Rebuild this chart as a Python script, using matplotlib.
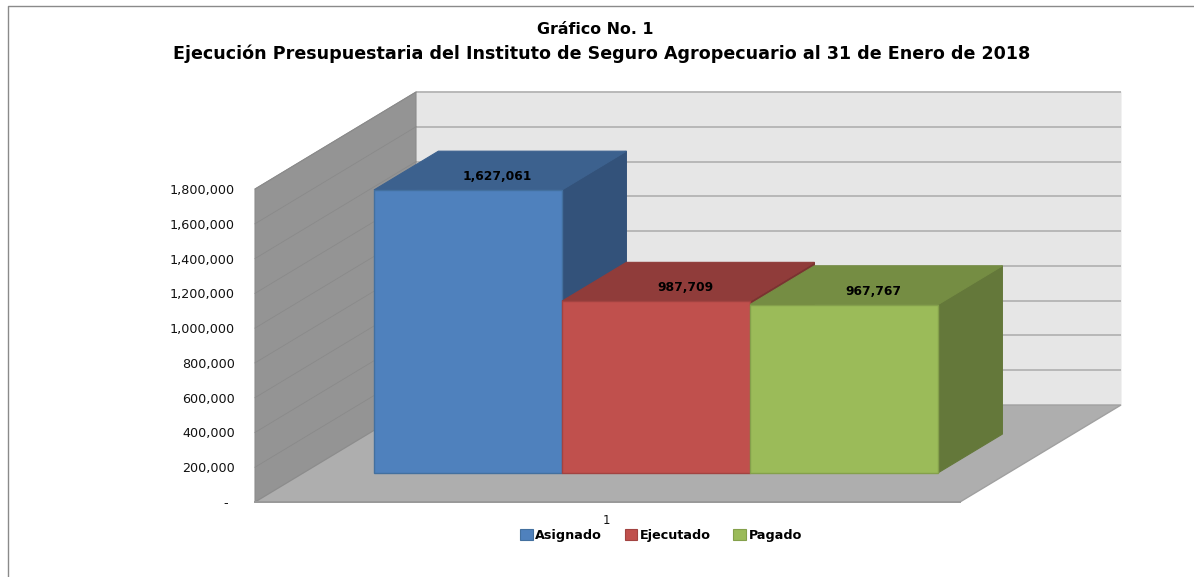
import matplotlib
matplotlib.use("Agg")
import matplotlib.pyplot as plt
from matplotlib.patches import Polygon, Patch
from matplotlib.lines import Line2D

# --- data ---
title_lines = ["Gráfico No. 1",
               "Ejecución Presupuestaria del Instituto de Seguro Agropecuario al 31 de Enero de 2018"]
categories = ["Asignado", "Ejecutado", "Pagado"]
values = [1627061, 987709, 967767]
value_labels = ["1,627,061", "987,709", "967,767"]
tick_values = [0, 200000, 400000, 600000, 800000, 1000000, 1200000, 1400000, 1600000, 1800000]
tick_labels = ["-", "200,000", "400,000", "600,000", "800,000", "1,000,000",
               "1,200,000", "1,400,000", "1,600,000", "1,800,000"]
axis_category = "1"

# --- style ---
W, H = 1194, 577
front_colors = ["#4F81BD", "#C0504D", "#9BBB59"]
top_colors = ["#3C618E", "#903C3A", "#758D43"]
side_colors = ["#33527A", "#7A3331", "#64783A"]
edge_colors = ["#43709F", "#A24341", "#84A04B"]

# layout in pixels
PY0, PY_MAX = 502.0, 189.0          # front wall: value 0 and value max
px_per_val = (PY0 - PY_MAX) / tick_values[-1]
WALL_X0, WALL_W = 255.0, 705.0
DEPTH_X, DEPTH_PX = 161.0, 97.0     # full floor depth
BAR_D0, BAR_D1 = 0.30, 0.70         # bars' depth range
BAR_X0, BAR_W = 325.7, 188.0

fig = plt.figure(figsize=(W / 100, H / 100), dpi=100, facecolor="white")
ax = fig.add_axes([0, 0, 1, 1])
ax.set_xlim(0, W)
ax.set_ylim((PY0 - H) / px_per_val, PY0 / px_per_val)
ax.axis("off")

DV = DEPTH_PX / px_per_val


def pr(x, v, d):
    """Project (x, value, depth fraction) on to the axes' data plane."""
    return (x + DEPTH_X * d, v + DV * d)


def face(points, fc, ec=None, lw=0.8, z=1):
    ax.add_patch(Polygon([pr(*p) for p in points], closed=True, facecolor=fc,
                         edgecolor=ec if ec else fc, linewidth=lw, zorder=z))


vmax = tick_values[-1]
x0, x1 = WALL_X0, WALL_X0 + WALL_W

# walls and floor
face([(x0, 0, 0), (x0, 0, 1), (x1, 0, 1), (x1, vmax, 1), (x0, vmax, 1)], "#E6E6E6", "#E6E6E6", z=1)
face([(x0, 0, 0), (x0, 0, 1), (x0, vmax, 1), (x0, vmax, 0)], "#949494", "#8C8C8C", z=1.2)
face([(x0, 0, 0), (x0, 0, 1), (x1, 0, 1), (x1, 0, 0)], "#AEAEAE", "#A0A0A0", lw=1.0, z=1.1)

# gridlines
for t in tick_values:
    if t > 0:
        pts = [pr(x0, t, 1), pr(x1, t, 1)]
        ax.plot(*zip(*pts), color="#AFAFAF", lw=1.2, zorder=1.05, solid_capstyle="butt")
        pts = [pr(x0, t, 0), pr(x0, t, 1)]
        ax.plot(*zip(*pts), color="#8A8A8A", lw=0.6, zorder=1.25)

# front edge of the floor
ax.plot(*zip(pr(x0, 0, 0), pr(x1, 0, 0)), color="#9A9A9A", lw=1.4, zorder=1.3)

# tick labels
for t, lab in zip(tick_values, tick_labels):
    xpos = x0 - 20 if t > 0 else x0 - 27
    ax.text(xpos, t - 1.5 / px_per_val, lab, ha="right", va="center", fontsize=9.2,
            color="#111111", zorder=5)

# bars
for i, (v, lab) in enumerate(zip(values, value_labels)):
    a, b = BAR_X0 + i * BAR_W, BAR_X0 + (i + 1) * BAR_W
    z = 2 + i
    face([(b, 0, BAR_D0), (b, 0, BAR_D1), (b, v, BAR_D1), (b, v, BAR_D0)],
         side_colors[i], side_colors[i], z=z)
    face([(a, v, BAR_D0), (a, v, BAR_D1), (b, v, BAR_D1), (b, v, BAR_D0)],
         top_colors[i], top_colors[i], z=z)
    face([(a, 0, BAR_D0), (b, 0, BAR_D0), (b, v, BAR_D0), (a, v, BAR_D0)],
         front_colors[i], edge_colors[i], lw=1.0, z=z + 0.1)
    lx, ly = pr((a + b) / 2, v, (BAR_D0 + BAR_D1) / 2)
    ax.text(lx - 3, ly - 6 / px_per_val, lab, ha="center", va="center", fontsize=8.9,
            fontweight="bold", color="black", zorder=6)

# category label
ax.text(606, (PY0 - 520) / px_per_val, axis_category, ha="center", va="center",
        fontsize=8.5, color="#111111")

# legend
handles = [Patch(facecolor=c, edgecolor=e, linewidth=0.8) for c, e in zip(front_colors, edge_colors)]
ax.legend(handles, categories, loc="center", ncol=3, frameon=False,
          bbox_to_anchor=(661 / W, 1 - 535.5 / H), bbox_transform=fig.transFigure,
          prop={"weight": "bold", "size": 9.2}, handlelength=1.0, handleheight=0.85,
          handletextpad=0.2, columnspacing=1.75, borderpad=0)

# titles
fig.text(595 / W, 1 - 29 / H, title_lines[0], ha="center", va="center",
         fontsize=11.4, fontweight="bold", color="black")
fig.text(601.5 / W, 1 - 54 / H, title_lines[1], ha="center", va="center",
         fontsize=12.65, fontweight="bold", color="black")

# chart border (open at the right and bottom image edges)
fig.add_artist(Line2D([7.5 / W, 7.5 / W, 1], [0, 1 - 6 / H, 1 - 6 / H],
                      transform=fig.transFigure, color="#8A8A8A", lw=1.0))

fig.savefig("out.png", dpi=100, facecolor="white")
